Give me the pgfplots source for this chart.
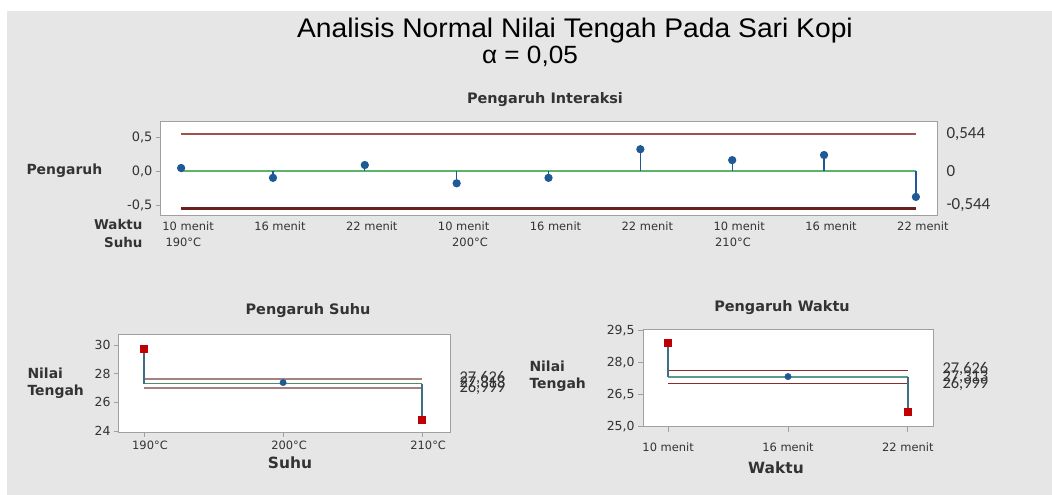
\documentclass[border=0pt]{standalone}
\usepackage{fontspec}
\setmainfont{DejaVu Sans}
\newfontfamily\titlefont[FakeStretch=1.05]{Liberation Sans}
\newfontfamily\calib{Carlito}
\usepackage{pgfplots}
\pgfplotsset{compat=1.18}
\definecolor{bg}{HTML}{E6E6E6}
\definecolor{frame}{HTML}{A0A0A0}
\definecolor{udl}{HTML}{A0524D}
\definecolor{ldl}{HTML}{6B1F1F}
\definecolor{cl}{HTML}{5DB36B}
\definecolor{pt}{HTML}{1F5A96}
\definecolor{lim2}{HTML}{A88080}
\definecolor{lim3}{HTML}{8E2B2B}
\definecolor{stem2}{HTML}{3F6F85}
\definecolor{cl2}{HTML}{4E8F6A}
\definecolor{cl3}{HTML}{5E9A8C}
\definecolor{red2}{HTML}{C00000}
\definecolor{txt}{HTML}{333333}
\pgfplotsset{
  anomstyle/.style={scale only axis, axis background/.style={fill=white},
    axis line style={frame, line width=1bp}, tick style={frame, line width=0.8bp},
    tick align=outside, major tick length=4bp, xtick pos=bottom, ytick pos=left,
    tick label style={font=\fontsize{12}{14}\selectfont, text=txt}, clip=false}
}
\begin{document}
\begin{tikzpicture}[x=1bp,y=1bp]
\fill[white] (0,0) rectangle (1052,495);
\fill[bg] (7,0) rectangle (1052,484);
% titles
\node[font=\titlefont\fontsize{27}{30}\selectfont, text=black] at (575,464) {Analisis Normal Nilai Tengah Pada Sari Kopi};
\node[font=\titlefont\fontsize{25}{28}\selectfont, text=black] at (530,439) {α = 0,05};
\node[font=\bfseries\fontsize{14.5}{17}\selectfont, text=txt] at (545,395) {Pengaruh Interaksi};

% ---------- interaction panel
\begin{axis}[anomstyle, at={(160bp,279bp)}, anchor=south west, width=777bp, height=94bp,
  xmin=-0.23, xmax=8.23, ymin=-0.66, ymax=0.72,
  xtick={0,...,8},
  xticklabels={10 menit,16 menit,22 menit,10 menit,16 menit,22 menit,10 menit,16 menit,22 menit},
  xtick style={draw=none}, xticklabel style={xshift=7bp, yshift=2bp, font=\fontsize{11.5}{13}\selectfont},
  ytick={-0.5,0,0.5}, yticklabels={{-0,5},{0,0},{0,5}},
  yticklabel style={font=\fontsize{13}{15}\selectfont}]
\addplot[cl, line width=1.2bp] coordinates {(0,0) (8,0)};
\addplot[udl, line width=1.2bp] coordinates {(0,0.544) (8,0.544)};
\addplot[ldl, line width=3bp] coordinates {(0,-0.544) (8,-0.544)};
\addplot[ycomb, pt, line width=1.2bp, mark=*, mark size=3.5bp, mark options={fill=pt, draw=pt}] table {
x y
0 0.044
1 -0.10
2 0.088
3 -0.18
4 -0.10
5 0.32
6 0.16
7 0.235
8 -0.38
};
\end{axis}
\node[anchor=west, font=\calib\fontsize{17}{19}\selectfont, text=txt] at (943,361) {0,544};
\node[anchor=west, font=\calib\fontsize{17}{19}\selectfont, text=txt] at (943,324) {0};
\node[anchor=west, font=\calib\fontsize{17}{19}\selectfont, text=txt] at (943,290) {-0,544};
\node[anchor=west, font=\bfseries\fontsize{14}{16}\selectfont, text=txt] at (23,324) {Pengaruh};
\node[anchor=east, font=\bfseries\fontsize{13.5}{16}\selectfont, text=txt] at (146,271) {Waktu};
\node[anchor=east, font=\bfseries\fontsize{13.5}{16}\selectfont, text=txt] at (146,253) {Suhu};
\node[anchor=west, font=\fontsize{11.5}{13}\selectfont, text=txt] at (162,253) {190°C};
\node[font=\fontsize{11.5}{13}\selectfont, text=txt] at (470,253) {200°C};
\node[font=\fontsize{11.5}{13}\selectfont, text=txt] at (733,253) {210°C};

% ---------- Suhu panel
\node[font=\bfseries\fontsize{14.5}{17}\selectfont, text=txt] at (308,184) {Pengaruh Suhu};
\begin{axis}[anomstyle, at={(118bp,62bp)}, anchor=south west, width=332bp, height=98bp,
  xmin=188.13, xmax=212, ymin=23.86, ymax=30.7,
  xtick={190,200,210}, xticklabels={190°C,200°C,210°C},
  xticklabel style={xshift=6bp, font=\fontsize{11.5}{13}\selectfont},
  ytick={24,26,28,30}, yticklabels={24,26,28,30},
  yticklabel style={font=\fontsize{12.5}{15}\selectfont},
  xlabel={Suhu}, xlabel style={xshift=6bp, yshift=-1bp, font=\bfseries\fontsize{15.5}{18}\selectfont, text=txt}]
\addplot[lim2, line width=2bp] coordinates {(190,27.626) (210,27.626)};
\addplot[lim2, line width=2bp] coordinates {(190,26.999) (210,26.999)};
\addplot[cl2, line width=1.5bp] coordinates {(190,27.313) (210,27.313)};
\addplot[stem2, line width=1.5bp] coordinates {(190,27.313) (190,29.75)};
\addplot[stem2, line width=1.5bp] coordinates {(200,27.313) (200,27.38)};
\addplot[stem2, line width=1.5bp] coordinates {(210,27.313) (210,24.81)};
\addplot[only marks, mark=square*, mark size=3.5bp, red2, mark options={fill=red2, draw=red2}] coordinates {(190,29.75) (210,24.81)};
\addplot[only marks, mark=*, mark size=3.2bp, pt, mark options={fill=pt, draw=pt}] coordinates {(200,27.38)};
\end{axis}
\node[anchor=west, font=\calib\fontsize{16.5}{19}\selectfont, text=txt] at (456,117) {27,626};
\node[anchor=west, font=\calib\fontsize{16.5}{19}\selectfont, text=txt] at (456,112) {27,313};
\node[anchor=west, font=\calib\fontsize{16.5}{19}\selectfont, text=txt] at (456,107) {26,999};
\node[anchor=west, font=\bfseries\fontsize{14}{17}\selectfont, text=txt, align=left] at (24,112) {Nilai\\Tengah};

% ---------- Waktu panel
\node[font=\bfseries\fontsize{14.5}{17}\selectfont, text=txt] at (782,187) {Pengaruh Waktu};
\begin{axis}[anomstyle, at={(643bp,68bp)}, anchor=south west, width=290bp, height=97bp,
  xmin=-0.21, xmax=2.21, ymin=24.97, ymax=29.53,
  xtick={0,1,2}, xticklabels={10 menit,16 menit,22 menit},
  xticklabel style={yshift=-7bp, font=\fontsize{11.5}{13}\selectfont},
  major tick length=5bp,
  ytick={25,26.5,28,29.5}, yticklabels={{25,0},{26,5},{28,0},{29,5}},
  yticklabel style={font=\fontsize{12.5}{15}\selectfont},
  xlabel={Waktu}, xlabel style={xshift=-12bp, yshift=-4bp, font=\bfseries\fontsize{15.5}{18}\selectfont, text=txt}]
\addplot[lim3, line width=1.2bp] coordinates {(0,27.626) (2,27.626)};
\addplot[lim3, line width=1.2bp] coordinates {(0,26.999) (2,26.999)};
\addplot[cl3, line width=1.8bp] coordinates {(0,27.313) (2,27.313)};
\addplot[stem2, line width=1.8bp] coordinates {(0,27.313) (0,28.94)};
\addplot[stem2, line width=1.8bp] coordinates {(1,27.313) (1,27.34)};
\addplot[stem2, line width=1.8bp] coordinates {(2,27.313) (2,25.70)};
\addplot[only marks, mark=square*, mark size=3.5bp, red2, mark options={fill=red2, draw=red2}] coordinates {(0,28.94) (2,25.70)};
\addplot[only marks, mark=*, mark size=3.2bp, pt, mark options={fill=pt, draw=pt}] coordinates {(1,27.34)};
\end{axis}
\node[anchor=west, font=\calib\fontsize{16.5}{19}\selectfont, text=txt] at (939,126) {27,626};
\node[anchor=west, font=\calib\fontsize{16.5}{19}\selectfont, text=txt] at (939,118) {27,313};
\node[anchor=west, font=\calib\fontsize{16.5}{19}\selectfont, text=txt] at (939,111) {26,999};
\node[anchor=west, font=\bfseries\fontsize{14}{17}\selectfont, text=txt, align=left] at (526,119) {Nilai\\Tengah};
\end{tikzpicture}
\end{document}
